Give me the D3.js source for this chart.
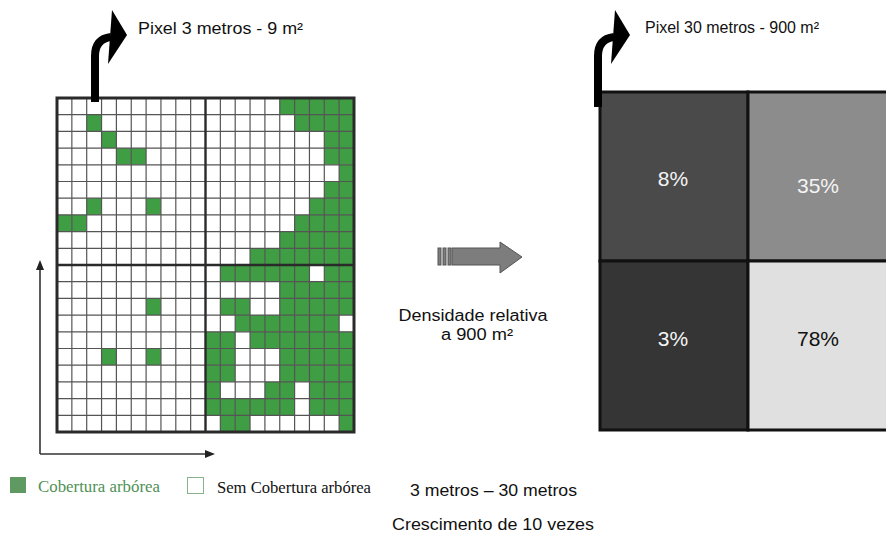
<!DOCTYPE html>
<html><head><meta charset="utf-8">
<script src="https://cdn.jsdelivr.net/npm/d3@7"></script>
<style>html,body{margin:0;padding:0;background:#fff;overflow:hidden}</style>
</head><body>
<svg id="c" width="886" height="537" xmlns="http://www.w3.org/2000/svg"></svg>
<script>
// ---- DATA ----
// 20 x 20 grid of 3 m pixels, "1" = tree cover (row 0 at top)
const coverRows = [
  "00000000000000011111",
  "00100000000000001111",
  "00010000000000000011",
  "00001100000000000011",
  "00000000000000000001",
  "00000000000000000011",
  "00100010000000000111",
  "11000000000000001111",
  "00000000000000011111",
  "00000000000001111111",
  "00000000000111111011",
  "00000000000000011111",
  "00000010000110011111",
  "00000000000011111110",
  "00000000001101111111",
  "00010010001100011111",
  "00000000001100011111",
  "00000000001000110111",
  "00000000001111110111",
  "00000000000110000001"
];
const quadCols = ["W", "E"];
const quadRows = ["N", "S"];
const densityValues = [8, 35, 3, 78];          // NW, NE, SW, SE (%)
const densityLabels = ["8%", "35%", "3%", "78%"];
const titleLabels = ["Pixel 3 metros - 9 m²", "Pixel 30 metros - 900 m²"];
const legendLabels = ["Cobertura arbórea", "Sem Cobertura arbórea"];
const arrowLabels = ["Densidade relativa", "a 900 m²"];
const footLabels = ["3 metros – 30 metros", "Crescimento de 10 vezes"];

// ---- DRAW ----
const svg = d3.select("#c");
const SANS = "'Liberation Sans', Arial, sans-serif";
const SERIF = "'Liberation Serif', 'Times New Roman', serif";
const GREEN = "#3f9d43";

const n = coverRows.length;
const gx = d3.scaleLinear().domain([0, n]).range([57, 354]);
const gy = d3.scaleLinear().domain([0, n]).range([98, 432]);

const cells = [];
coverRows.forEach((row, r) => row.split("").forEach((v, c) => cells.push({r, c, v: +v})));

const grid = svg.append("g");
grid.selectAll("rect.cell").data(cells).join("rect")
  .attr("x", d => gx(d.c)).attr("y", d => gy(d.r))
  .attr("width", gx(1) - gx(0)).attr("height", gy(1) - gy(0))
  .attr("fill", d => d.v ? GREEN : "#fff");

const inner = d3.range(1, n).filter(i => i !== n / 2);
grid.selectAll("line.v").data(inner).join("line")
  .attr("x1", d => gx(d)).attr("x2", d => gx(d)).attr("y1", gy(0)).attr("y2", gy(n))
  .attr("stroke", "#555").attr("stroke-width", 1.2);
grid.selectAll("line.h").data(inner).join("line")
  .attr("y1", d => gy(d)).attr("y2", d => gy(d)).attr("x1", gx(0)).attr("x2", gx(n))
  .attr("stroke", "#555").attr("stroke-width", 1.2);
grid.append("line").attr("x1", gx(n / 2)).attr("x2", gx(n / 2)).attr("y1", gy(0)).attr("y2", gy(n))
  .attr("stroke", "#2a2a2a").attr("stroke-width", 2.4);
grid.append("line").attr("y1", gy(n / 2)).attr("y2", gy(n / 2)).attr("x1", gx(0)).attr("x2", gx(n))
  .attr("stroke", "#2a2a2a").attr("stroke-width", 2.4);
grid.append("rect").attr("x", gx(0)).attr("y", gy(0))
  .attr("width", gx(n) - gx(0)).attr("height", gy(n) - gy(0))
  .attr("fill", "none").attr("stroke", "#2a2a2a").attr("stroke-width", 3);

// axis arrows (left)
const ax = svg.append("g").attr("stroke", "#333").attr("fill", "#222");
ax.append("line").attr("x1", 40).attr("y1", 454).attr("x2", 40).attr("y2", 266).attr("stroke-width", 1.6);
ax.append("path").attr("d", "M40,260 L36,270 L44,270 Z").attr("stroke", "none");
ax.append("line").attr("x1", 40).attr("y1", 454).attr("x2", 208).attr("y2", 454).attr("stroke-width", 1.6);
ax.append("path").attr("d", "M215,454 L205,450 L205,458 Z").attr("stroke", "none");

// right coarse pixels (30 m)
const bx = d3.scaleBand().domain(quadCols).range([600, 896]);
const by = d3.scaleBand().domain(quadRows).range([92, 430]);
const shade = d3.scaleLinear().domain([3, 8, 35, 78])
  .range(["#353535", "#4a4a4a", "#8c8c8c", "#e0e0e0"]);
const blocks = densityValues.map((v, i) => ({
  v, label: densityLabels[i], col: quadCols[i % 2], row: quadRows[Math.floor(i / 2)]
}));
const bg = svg.append("g");
bg.selectAll("rect").data(blocks).join("rect")
  .attr("x", d => bx(d.col)).attr("y", d => by(d.row))
  .attr("width", bx.bandwidth()).attr("height", by.bandwidth())
  .attr("fill", d => shade(d.v)).attr("stroke", "#111").attr("stroke-width", 3);
const rowShift = {N: 1.5, S: -7.5};
const colShift = {W: -1, E: -4};
bg.selectAll("text").data(blocks).join("text")
  .attr("x", d => bx(d.col) + bx.bandwidth() / 2 + colShift[d.col])
  .attr("y", d => by(d.row) + by.bandwidth() / 2 + rowShift[d.row] + (d.v === 35 ? 7 : 0))
  .attr("dy", "0.36em").attr("text-anchor", "middle")
  .attr("font-family", SANS).attr("font-size", 21)
  .attr("fill", d => d.v > 50 ? "#111" : "#f4f4f4")
  .text(d => d.label);

// curved "turn" arrows
function turnArrow(sx, yb) {
  const g = svg.append("g");
  g.append("path").attr("d", `M${sx},${yb} V56 Q${sx},39 ${sx + 16},37`)
    .attr("fill", "none").attr("stroke", "#000").attr("stroke-width", 8);
  g.append("path").attr("d", `M${sx + 17},10 L${sx + 32},35 L${sx + 13},64 L${sx + 15},37 Z`)
    .attr("fill", "#000");
}
turnArrow(95, 102);
turnArrow(598, 107);

function label(x, y, txt, opts) {
  return svg.append("text").attr("x", x).attr("y", y)
    .attr("font-family", opts.font || SANS).attr("font-size", opts.size)
    .attr("text-anchor", opts.anchor || "start")
    .attr("textLength", opts.len).attr("lengthAdjust", "spacingAndGlyphs")
    .attr("fill", opts.fill || "#111").text(txt);
}
// titles
label(138, 34, titleLabels[0], {size: 16, len: 165});
label(645, 33, titleLabels[1], {size: 16, len: 174});

// middle block arrow
const ma = svg.append("g").attr("fill", "#7d7d7d").attr("stroke", "#555").attr("stroke-width", 1);
[438, 443, 448].forEach(x0 => ma.append("rect").attr("x", x0).attr("y", 248).attr("width", 3).attr("height", 17));
ma.append("path").attr("d", "M452,248 H500 V242 L522,257 L500,273 V265 H452 Z");

label(473, 321, arrowLabels[0], {size: 16, len: 149, anchor: "middle"});
label(477, 340, arrowLabels[1], {size: 16, len: 72, anchor: "middle"});

// legend
const lg = svg.append("g");
lg.append("rect").attr("x", 10).attr("y", 477).attr("width", 16).attr("height", 16).attr("fill", "#5e9a62");
label(38, 492, legendLabels[0], {size: 16.5, len: 122, font: SERIF, fill: "#4f9155"});
lg.append("rect").attr("x", 187.5).attr("y", 477.5).attr("width", 16).attr("height", 16)
  .attr("fill", "#fff").attr("stroke", "#86b38a").attr("stroke-width", 1);
label(217, 493, legendLabels[1], {size: 16.5, len: 154, font: SERIF});

label(410, 496, footLabels[0], {size: 16.5, len: 167});
label(392, 530, footLabels[1], {size: 16, len: 202});
</script>
</body></html>
